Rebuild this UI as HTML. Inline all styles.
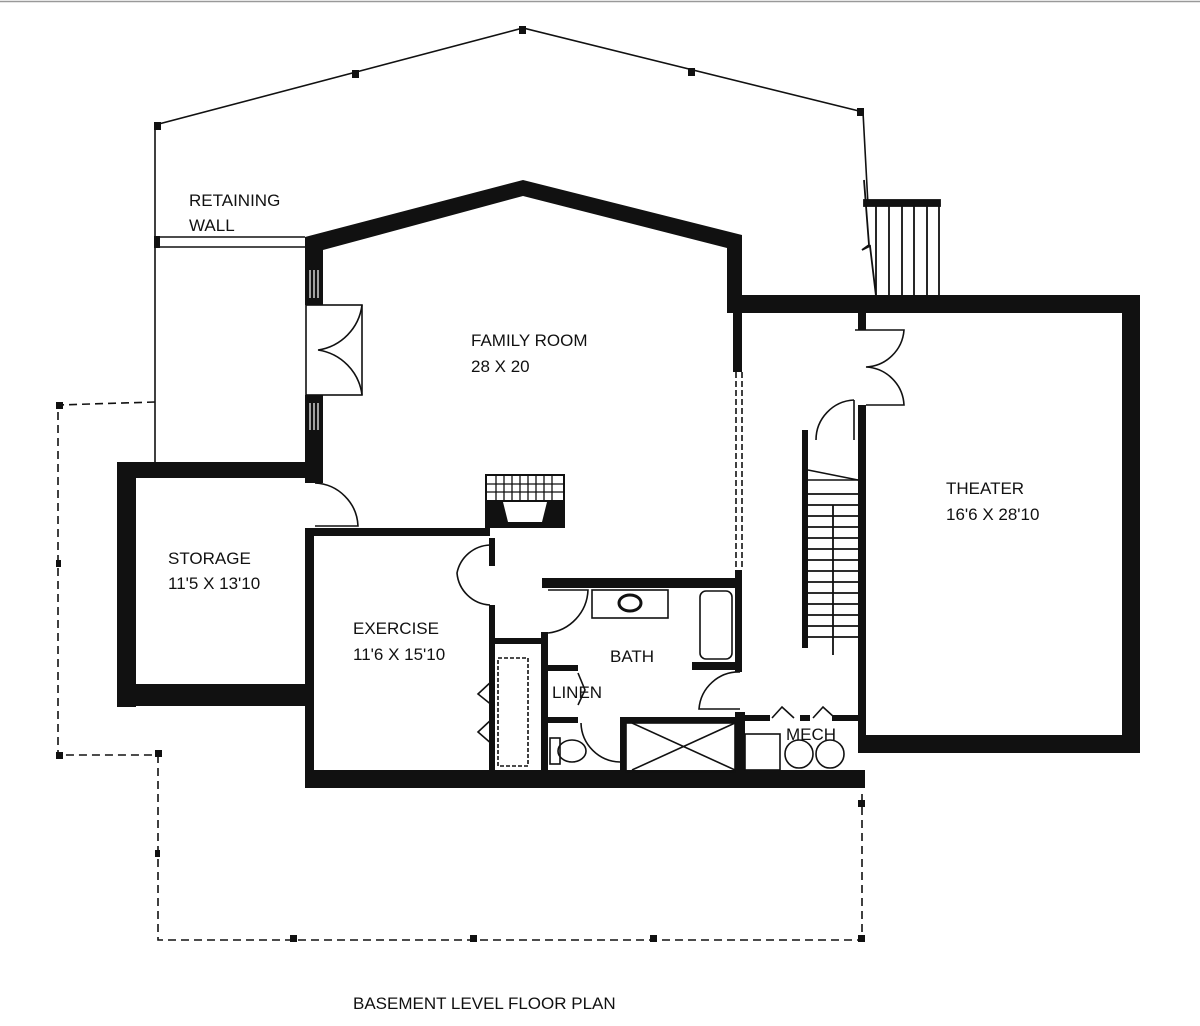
<!DOCTYPE html>
<html><head><style>html,body{margin:0;padding:0;background:#fff}svg{display:block}text{font-family:"Liberation Sans",sans-serif;font-size:17px;fill:#111}</style></head><body>
<svg width="1200" height="1026" viewBox="0 0 1200 1026" xmlns="http://www.w3.org/2000/svg">
<g fill="none" stroke="#111" stroke-width="1.6">
<polyline points="155,462 155,125 523,28 863,112 868,205"/>
<line x1="155" y1="237" x2="305" y2="237"/><line x1="155" y1="247" x2="305" y2="247"/>
<line x1="0" y1="1.5" x2="1200" y2="1.5" stroke="#999"/>
</g>
<g fill="#111">
<rect x="154" y="122" width="7" height="8"/><rect x="352" y="70" width="7" height="8"/><rect x="519" y="26" width="7" height="8"/><rect x="688" y="68" width="7" height="8"/><rect x="857" y="108" width="7" height="8"/><rect x="154" y="236" width="6" height="12"/>
</g>
<!-- outdoor stair -->
<g stroke="#111" stroke-width="1.8" fill="none">
<rect x="864" y="200" width="76" height="6" fill="#111"/>
<line x1="876" y1="206" x2="876" y2="296"/><line x1="889" y1="206" x2="889" y2="296"/><line x1="902" y1="206" x2="902" y2="296"/><line x1="914" y1="206" x2="914" y2="296"/><line x1="927" y1="206" x2="927" y2="296"/><line x1="939" y1="206" x2="939" y2="296"/>
<polyline points="864,180 866,206 869,245 862,250 870,246 876,296"/>
</g>
<!-- dashed deck -->
<g fill="none" stroke="#111" stroke-width="1.6" stroke-dasharray="8,5">
<polyline points="155,402 58,405 58,755 155,755"/>
<polyline points="158,755 158,940 862,940 862,790"/>
</g>
<g fill="#111"><rect x="56" y="402" width="7" height="7"/><rect x="56" y="560" width="5" height="7"/><rect x="56" y="752" width="7" height="7"/><rect x="155" y="750" width="7" height="7"/><rect x="155" y="850" width="5" height="7"/><rect x="290" y="935" width="7" height="7"/><rect x="470" y="935" width="7" height="7"/><rect x="650" y="935" width="7" height="7"/><rect x="858" y="935" width="7" height="7"/><rect x="858" y="800" width="7" height="7"/></g>
<!-- thick walls -->
<g fill="#111">
<polygon points="305,237 523,180 742,235 742,312 727,312 727,248 523,196 323,250 323,305 305,305"/>
<rect x="305" y="395" width="18" height="88"/>
<rect x="117" y="462" width="206" height="16"/>
<rect x="117" y="462" width="19" height="245"/>
<rect x="117" y="684" width="196" height="22"/>
<rect x="305" y="528" width="9" height="260"/>
<rect x="305" y="528" width="185" height="8"/>
<rect x="305" y="770" width="560" height="18"/>
<rect x="727" y="295" width="413" height="18"/>
<rect x="1122" y="295" width="18" height="450"/>
<rect x="858" y="735" width="282" height="18"/>
<rect x="858" y="313" width="8" height="17"/>
<rect x="858" y="405" width="8" height="340"/>
<rect x="733" y="312" width="9" height="60"/>
<rect x="735" y="570" width="7" height="102"/>
<rect x="542" y="578" width="200" height="10"/>
<rect x="692" y="662" width="48" height="8"/>
<rect x="541" y="632" width="7" height="146"/>
<rect x="489" y="605" width="6" height="173"/>
<rect x="489" y="538" width="6" height="28"/>
<rect x="489" y="638" width="55" height="6"/>
<rect x="735" y="712" width="10" height="66"/>
<rect x="745" y="715" width="25" height="6"/><rect x="800" y="715" width="10" height="6"/><rect x="832" y="715" width="28" height="6"/>
<rect x="620" y="717" width="115" height="6"/>
<rect x="620" y="717" width="6" height="60"/>
<rect x="548" y="665" width="30" height="6"/><rect x="548" y="717" width="30" height="6"/>
<rect x="802" y="430" width="6" height="218"/>
<rect x="485" y="502" width="6" height="26"/><rect x="485" y="522" width="80" height="6"/><rect x="559" y="502" width="6" height="26"/>
</g>
<!-- window hatches -->
<g stroke="#fff" stroke-width="1.2"><line x1="310" y1="270" x2="310" y2="298"/><line x1="314" y1="270" x2="314" y2="298"/><line x1="318" y1="270" x2="318" y2="298"/><line x1="310" y1="403" x2="310" y2="430"/><line x1="314" y1="403" x2="314" y2="430"/><line x1="318" y1="403" x2="318" y2="430"/></g>
<!-- thin details -->
<g fill="none" stroke="#111" stroke-width="1.6">
<rect x="306" y="305" width="56" height="90"/>
<path d="M362,305 A52,52 0 0 1 318,350 M318,350 A52,52 0 0 1 362,395"/>
<path d="M315,483 A45,45 0 0 1 358,526 L315,526"/>
<line x1="736" y1="372" x2="736" y2="570" stroke-dasharray="6,3"/><line x1="742" y1="372" x2="742" y2="570" stroke-dasharray="6,3"/>
<path d="M855,330 L866,330 M866,330 H904 A40,40 0 0 1 866,367 A40,40 0 0 1 904,405 H866"/>
<path d="M854,400 V440 M854,400 A40,40 0 0 0 816,440"/>
<path d="M490,545 A35,35 0 0 0 457,573 A35,35 0 0 0 490,605"/>
<path d="M548,590 H588 A45,45 0 0 1 548,633"/>
<rect x="592" y="590" width="76" height="28"/><ellipse cx="630" cy="603" rx="11" ry="8" stroke-width="3"/>
<rect x="700" y="591" width="32" height="68" rx="6"/>
<path d="M740,672 A40,40 0 0 0 699,709 H740"/>
<path d="M581,723 A40,40 0 0 0 620,762"/>
<line x1="632" y1="723" x2="735" y2="770"/><line x1="632" y1="770" x2="735" y2="723"/>
<rect x="626" y="723" width="109" height="49"/>
<rect x="550" y="738" width="10" height="26"/><ellipse cx="572" cy="751" rx="14" ry="11"/>
<rect x="498" y="658" width="30" height="108" stroke-dasharray="4,2"/>
<path d="M493,680 L478,694 L493,706 M493,718 L478,732 L493,745"/>
<path d="M578,673 L585,690 L578,705"/>
<rect x="745" y="734" width="35" height="36"/>
<circle cx="799" cy="754" r="14"/><circle cx="830" cy="754" r="14"/>
<path d="M772,718 L782,707 L794,718 M813,718 L823,707 L835,718"/>
<line x1="808" y1="480" x2="858" y2="480"/>
<line x1="808" y1="470" x2="858" y2="480"/>
</g>
<g stroke="#111" stroke-width="1.8">
<line x1="808" y1="494" x2="858" y2="494"/><line x1="808" y1="505" x2="858" y2="505"/><line x1="808" y1="516" x2="858" y2="516"/><line x1="808" y1="527" x2="858" y2="527"/><line x1="808" y1="538" x2="858" y2="538"/><line x1="808" y1="549" x2="858" y2="549"/><line x1="808" y1="560" x2="858" y2="560"/><line x1="808" y1="571" x2="858" y2="571"/><line x1="808" y1="582" x2="858" y2="582"/><line x1="808" y1="593" x2="858" y2="593"/><line x1="808" y1="604" x2="858" y2="604"/><line x1="808" y1="615" x2="858" y2="615"/><line x1="808" y1="626" x2="858" y2="626"/><line x1="808" y1="637" x2="858" y2="637"/>
<line x1="833" y1="505" x2="833" y2="655"/>
</g>
<!-- fireplace -->
<rect x="486" y="475" width="78" height="26" fill="#fff" stroke="#111" stroke-width="2"/>
<g stroke="#111" stroke-width="1.3"><line x1="486" y1="484" x2="564" y2="484"/><line x1="486" y1="492" x2="564" y2="492"/><line x1="496" y1="475" x2="496" y2="501"/><line x1="504" y1="475" x2="504" y2="501"/><line x1="512" y1="475" x2="512" y2="501"/><line x1="520" y1="475" x2="520" y2="501"/><line x1="528" y1="475" x2="528" y2="501"/><line x1="536" y1="475" x2="536" y2="501"/><line x1="544" y1="475" x2="544" y2="501"/><line x1="552" y1="475" x2="552" y2="501"/></g>
<polygon points="491,502 503,502 508,522 491,522" fill="#111"/><polygon points="547,502 559,502 559,522 542,522" fill="#111"/>
<text x="189" y="206">RETAINING</text><text x="189" y="231">WALL</text>
<text x="471" y="346">FAMILY ROOM</text><text x="471" y="372">28 X 20</text>
<text x="946" y="494">THEATER</text><text x="946" y="520">16'6 X 28'10</text>
<text x="168" y="564">STORAGE</text><text x="168" y="589">11'5 X 13'10</text>
<text x="353" y="634">EXERCISE</text><text x="353" y="660">11'6 X 15'10</text>
<text x="610" y="662">BATH</text><text x="552" y="698">LINEN</text><text x="786" y="740">MECH</text>
<text x="353" y="1009">BASEMENT LEVEL FLOOR PLAN</text>
</svg>
</body></html>
